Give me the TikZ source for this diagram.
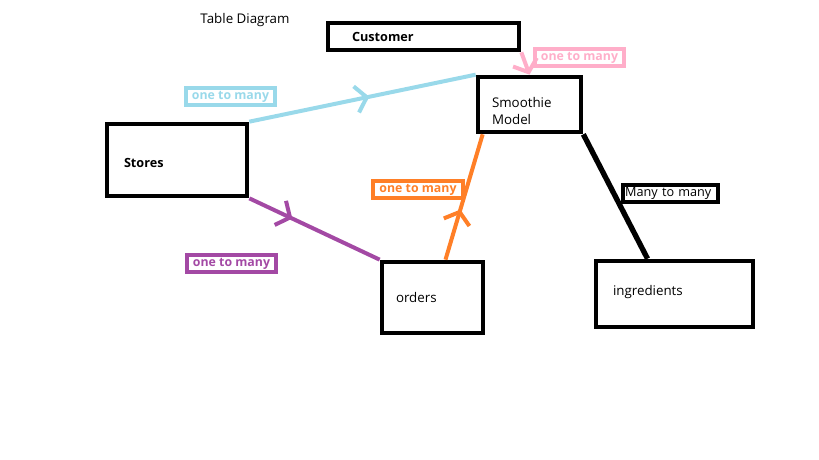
\documentclass[tikz,border=0pt]{standalone}
\usepackage{fontspec}
\setmainfont{Open Sans}
\usetikzlibrary{arrows.meta,calc,decorations.markings}
\definecolor{paintblue}{RGB}{153,217,234}
\definecolor{paintpink}{RGB}{255,174,201}
\definecolor{paintorange}{RGB}{255,127,39}
\definecolor{paintpurple}{RGB}{163,73,164}

\begin{document}
\begin{tikzpicture}[x=0.75pt,y=-0.75pt,
        table/.style={draw, line width=3.5pt, align=left, inner ysep=0pt, font=\fontsize{10}{12.5}\selectfont},
        rel/.style={draw=#1, line width=3pt, text=#1, inner xsep=4.5pt, inner ysep=0pt, minimum height=12.75pt, font=\fontsize{9.25}{11}\selectfont\bfseries},
        link/.style={draw=#1, line width=3pt},
        barb/.style={-{Straight Barb[length=8pt,width=19pt]}},
        midbarb/.style={postaction={decorate}, decoration={markings, mark=at position #1 with {\arrow{Straight Barb[length=8pt,width=20pt]}}}}]
        \useasboundingbox (0,0) rectangle (819,460);

        \node[font=\fontsize{10}{12}\selectfont] (title) at (245,20) {Table Diagram};

        \node[table, inner xsep=18pt, text width=107.25pt, minimum height=20.25pt, font=\fontsize{9.5}{12}\selectfont\bfseries] (customer) at (423.5,36.5) {Customer};
        \node[table, inner xsep=10.5pt, text width=56.25pt, minimum height=41.25pt, text height=17.5pt] (smoothie) at (529.5,104.5) {Smoothie\\Model};
        \node[table, inner xsep=12.75pt, text width=79.5pt, minimum height=54pt, text height=12pt, font=\fontsize{9.5}{12}\selectfont\bfseries] (stores) at (177,160) {Stores};
        \node[table, inner xsep=10.5pt, text width=54.75pt, minimum height=53.25pt] (orders) at (432.5,297.5) {orders};
        \node[table, inner xsep=12.75pt, text width=92.25pt, minimum height=49.5pt, text depth=6pt] (ingredients) at (674.5,294) {ingredients};

        \draw[link=paintblue, midbarb=0.53] (stores.north east) -- (smoothie.north west);
        \draw[link=paintpurple, midbarb=0.33] (stores.south east) -- (orders.north west);
        \draw[link=paintorange, midbarb=0.4] ($(orders.north)+(13,0)$) -- ($(smoothie.south west)+(7,0)$);
        \draw[link=paintpink, barb] (customer.south east) -- (smoothie.north);
        \draw[link=black, line width=4pt] (smoothie.south east) -- ($(ingredients.north)+(-27,0)$);

        \node[rel=paintblue] (onemanyblue) at (230.5,96.5) {one to many};
        \node[rel=paintpink] (onemanypink) at (579.5,58) {one to many};
        \node[rel=paintorange] (onemanyorange) at (418,190) {one to many};
        \node[rel=paintpurple] (onemanypurple) at (231.5,263.5) {one to many};
        \node[rel=black, inner xsep=2pt, text width=67.25pt, align=left, font=\fontsize{9.5}{11}\selectfont] (manymany) at (670,193.5) {Many to many};
    \end{tikzpicture}
\end{document}
